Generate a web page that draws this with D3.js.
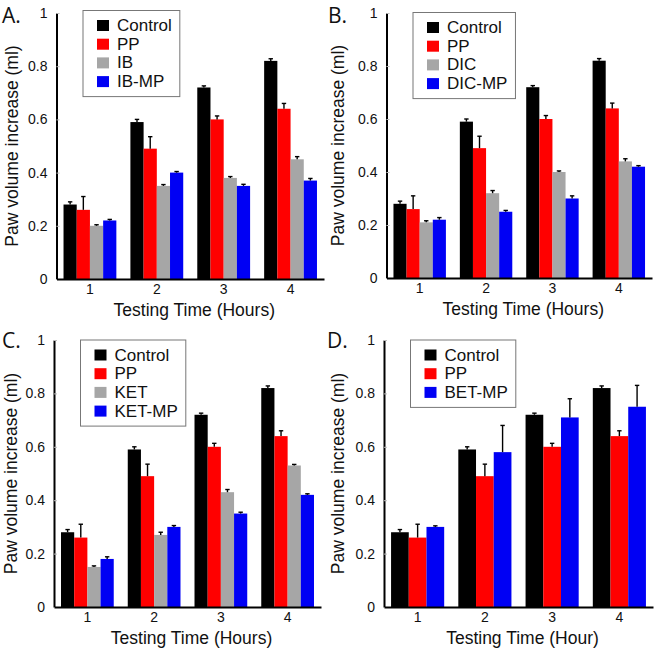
<!DOCTYPE html>
<html>
<head>
<meta charset="utf-8">
<script src="https://cdn.jsdelivr.net/npm/d3@7"></script>
<style>
  html, body { margin: 0; padding: 0; background: #fff; }
  svg { display: block; }
</style>
</head>
<body>
<svg id="chart" width="655" height="650"></svg>
<script>
// ---------- data ----------
const hours = ["1", "2", "3", "4"];
const yTicks = [0, 0.2, 0.4, 0.6, 0.8, 1];
const yTickLabels = ["0", "0.2", "0.4", "0.6", "0.8", "1"];

const controlVals = [0.28, 0.59, 0.72, 0.82];
const controlErr  = [0.010, 0.010, 0.006, 0.008];
const ppVals      = [0.26, 0.49, 0.60, 0.64];
const ppErr       = [0.050, 0.045, 0.013, 0.020];

const ibVals      = [0.20, 0.35, 0.38, 0.45];
const ibErr       = [0.004, 0.005, 0.005, 0.010];
const ibmpVals    = [0.22, 0.40, 0.35, 0.37];
const ibmpErr     = [0.004, 0.004, 0.006, 0.008];

const dicVals     = [0.21, 0.32, 0.40, 0.44];
const dicErr      = [0.006, 0.010, 0.004, 0.010];
const dicmpVals   = [0.22, 0.25, 0.30, 0.42];
const dicmpErr    = [0.008, 0.005, 0.010, 0.004];

const ketVals     = [0.15, 0.27, 0.43, 0.53];
const ketErr      = [0.004, 0.010, 0.010, 0.004];
const ketmpVals   = [0.18, 0.30, 0.35, 0.42];
const ketmpErr    = [0.008, 0.005, 0.005, 0.004];

const betmpVals   = [0.30, 0.58, 0.71, 0.75];
const betmpErr    = [0.004, 0.100, 0.070, 0.080];

const panelLabels = ["A.", "B.", "C.", "D."];
const xTitles = ["Testing Time (Hours)", "Testing Time (Hours)", "Testing Time (Hours)", "Testing Time (Hour)"];
const yTitle = "Paw volume increase (ml)";

const COL = { black: "#000000", red: "#ff0000", gray: "#a6a6a6", blue: "#0000f4" };

const panels = [
  { series: [
      { name: "Control", vals: controlVals, err: controlErr, color: COL.black },
      { name: "PP",      vals: ppVals,      err: ppErr,      color: COL.red },
      { name: "IB",      vals: ibVals,      err: ibErr,      color: COL.gray },
      { name: "IB-MP",   vals: ibmpVals,    err: ibmpErr,    color: COL.blue } ],
    rect: { l: 56.5, r: 324, t: 13, b: 279 }, legTop: 10.5, label: [2, 23], ylabX: 12 },
  { series: [
      { name: "Control", vals: controlVals, err: controlErr, color: COL.black },
      { name: "PP",      vals: ppVals,      err: ppErr,      color: COL.red },
      { name: "DIC",     vals: dicVals,     err: dicErr,     color: COL.gray },
      { name: "DIC-MP",  vals: dicmpVals,   err: dicmpErr,   color: COL.blue } ],
    rect: { l: 386.5, r: 652, t: 13, b: 278 }, legTop: 12.5, label: [328, 23], ylabX: 338 },
  { series: [
      { name: "Control", vals: controlVals, err: controlErr, color: COL.black },
      { name: "PP",      vals: ppVals,      err: ppErr,      color: COL.red },
      { name: "KET",     vals: ketVals,     err: ketErr,     color: COL.gray },
      { name: "KET-MP",  vals: ketmpVals,   err: ketmpErr,   color: COL.blue } ],
    rect: { l: 54, r: 321, t: 340, b: 607 }, legTop: 340, label: [2, 348], ylabX: 11 },
  { series: [
      { name: "Control", vals: controlVals, err: controlErr, color: COL.black },
      { name: "PP",      vals: ppVals,      err: ppErr,      color: COL.red },
      { name: "BET-MP",  vals: betmpVals,   err: betmpErr,   color: COL.blue } ],
    rect: { l: 384, r: 653, t: 340, b: 607 }, legTop: 340, label: [327, 348], ylabX: 338 }
];

const svg = d3.select("#chart");
const FONT = "'Liberation Sans', Arial, sans-serif";

panels.forEach((p, pi) => {
  const R = p.rect;
  const g = svg.append("g");

  const x = d3.scaleBand().domain(hours).range([R.l, R.r])
    .paddingInner(0.21).paddingOuter(0.105);
  const xs = d3.scaleBand().domain(p.series.map(s => s.name))
    .range([0, x.bandwidth()]).padding(0);
  const y = d3.scaleLinear().domain([0, 1]).range([R.b, R.t]);

  // bars
  p.series.forEach(s => {
    g.append("g").selectAll("rect").data(hours).join("rect")
      .attr("x", (h) => x(h) + xs(s.name))
      .attr("y", (h, i) => y(s.vals[i]))
      .attr("width", xs.bandwidth())
      .attr("height", (h, i) => y(0) - y(s.vals[i]))
      .attr("fill", s.color);
  });

  // error bars (upper only)
  p.series.forEach(s => {
    const eg = g.append("g").attr("stroke", "#000").attr("stroke-width", 1.4);
    hours.forEach((h, i) => {
      const cx = x(h) + xs(s.name) + xs.bandwidth() / 2;
      const y0 = y(s.vals[i]);
      const y1 = y(s.vals[i] + s.err[i]);
      eg.append("line").attr("x1", cx).attr("x2", cx).attr("y1", y0).attr("y2", y1);
      eg.append("line").attr("x1", cx - 2.2).attr("x2", cx + 2.2).attr("y1", y1).attr("y2", y1);
    });
  });

  // y axis
  const yAxis = d3.axisLeft(y).tickValues(yTicks)
    .tickFormat((d, i) => yTickLabels[i]).tickSizeInner(-3).tickSizeOuter(0).tickPadding(9);
  const ya = g.append("g").attr("transform", `translate(${R.l},0)`).call(yAxis);
  ya.select(".domain").attr("stroke", "#000").attr("stroke-width", 2);
  ya.selectAll(".tick line").attr("stroke", "#bbb").attr("stroke-width", 1);
  ya.selectAll(".tick text").attr("font-family", FONT).attr("font-size", 14).attr("fill", "#111");

  // x axis
  const xAxis = d3.axisBottom(x).tickSizeInner(0).tickSizeOuter(0).tickPadding(5);
  const xa = g.append("g").attr("transform", `translate(0,${R.b})`).call(xAxis);
  xa.select(".domain").attr("stroke", "#000").attr("stroke-width", 2);
  xa.selectAll(".tick text").attr("font-family", FONT).attr("font-size", 14).attr("fill", "#111");

  // axis titles
  g.append("text").attr("x", (R.l + R.r) / 2 + 4).attr("y", R.b + 37)
    .attr("text-anchor", "middle").attr("font-family", FONT).attr("font-size", 17.5)
    .attr("fill", "#111").text(xTitles[pi]);
  g.append("text")
    .attr("transform", `translate(${p.ylabX},${(R.t + R.b) / 2}) rotate(-90)`)
    .attr("text-anchor", "middle").attr("dominant-baseline", "central")
    .attr("font-family", FONT).attr("font-size", 17.5).attr("fill", "#111").text(yTitle);

  // panel label
  g.append("text").attr("x", p.label[0]).attr("y", p.label[1])
    .attr("font-family", "'Open Sans', sans-serif").attr("font-size", 21)
    .attr("fill", "#111").text(panelLabels[pi]);

  // legend
  const lx = R.l + 26.5;
  const ly = p.legTop;
  const rowH = 18.7;
  const lg = g.append("g");
  const box = lg.append("rect").attr("x", lx).attr("y", ly)
    .attr("fill", "#fff").attr("stroke", "#777").attr("stroke-width", 1);
  let maxW = 0;
  p.series.forEach((s, i) => {
    const cy = ly + 15 + i * rowH;
    lg.append("rect").attr("x", lx + 14).attr("y", cy - 5.5)
      .attr("width", 12).attr("height", 11).attr("fill", s.color);
    const t = lg.append("text").attr("x", lx + 34).attr("y", cy)
      .attr("dominant-baseline", "central").attr("font-family", FONT)
      .attr("font-size", 17).attr("fill", "#111").text(s.name);
    maxW = Math.max(maxW, t.node().getComputedTextLength());
  });
  box.attr("width", 34 + maxW + 8).attr("height", 30 + (p.series.length - 1) * rowH);
});
</script>
</body>
</html>
